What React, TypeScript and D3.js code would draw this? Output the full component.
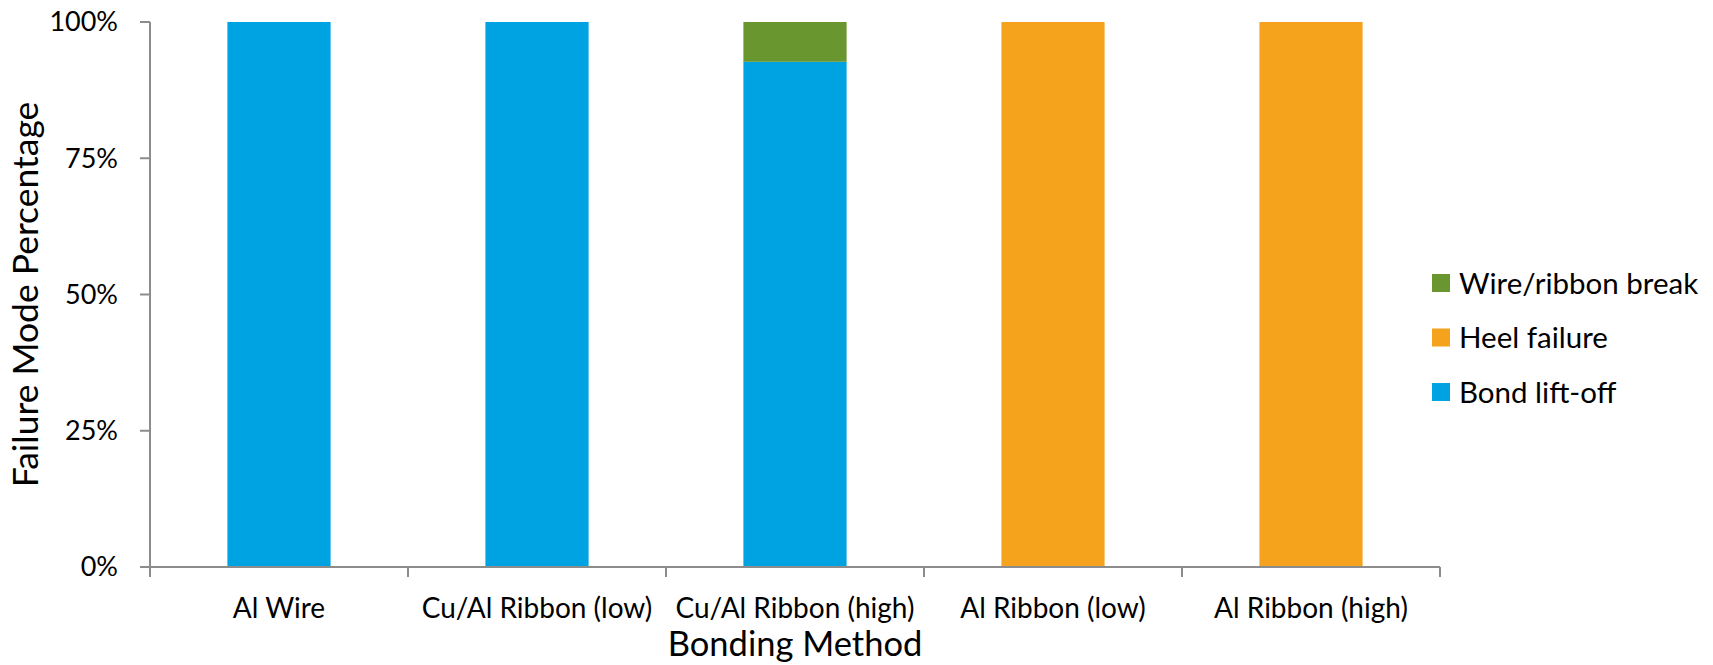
import React from "react";
import * as d3 from "d3";

const categories = [
  "Al Wire",
  "Cu/Al Ribbon (low)",
  "Cu/Al Ribbon (high)",
  "Al Ribbon (low)",
  "Al Ribbon (high)",
];
const bondLiftOff = [100, 100, 92.7, 0, 0];
const heelFailure = [0, 0, 0, 100, 100];
const wireRibbonBreak = [0, 0, 7.3, 0, 0];
const seriesNames = ["Bond lift-off", "Heel failure", "Wire/ribbon break"];
const seriesColors = ["#00A3E1", "#F5A21D", "#6A962F"];
const yTicks = [0, 25, 50, 75, 100];

const W = 1713;
const H = 665;
const M = { left: 150, right: 273, top: 22, bottom: 98 };
const FONT = "Lato, 'Open Sans', sans-serif";
const AXIS = "#8C8C8C";

export default function App() {
  const x = d3
    .scaleBand<string>()
    .domain(categories)
    .range([M.left, W - M.right])
    .paddingInner(0.6)
    .paddingOuter(0.3);
  const y = d3.scaleLinear().domain([0, 100]).range([H - M.bottom, M.top]);

  const rows = categories.map((c, i) => ({
    cat: c,
    [seriesNames[0]]: bondLiftOff[i],
    [seriesNames[1]]: heelFailure[i],
    [seriesNames[2]]: wireRibbonBreak[i],
  }));
  const stacked = d3.stack<any>().keys(seriesNames)(rows);

  const step = x.step();
  const boundaries = d3.range(categories.length + 1).map((i) => M.left + i * step);
  const y0 = y(0);

  return (
    <div style={{ position: "absolute", left: 0, top: 0 }}>
      <svg width={W} height={H} style={{ display: "block", background: "#fff" }}>
        {stacked.map((layer, si) => (
          <g key={layer.key} fill={seriesColors[si]}>
            {layer.map((d, i) =>
              d[1] - d[0] > 0 ? (
                <rect
                  key={i}
                  x={x(categories[i])}
                  width={x.bandwidth()}
                  y={y(d[1])}
                  height={y(d[0]) - y(d[1])}
                />
              ) : null
            )}
          </g>
        ))}

        {/* value axis */}
        <line x1={M.left} x2={M.left} y1={y(100)} y2={y0} stroke={AXIS} strokeWidth={2} />
        {yTicks.map((t) => (
          <g key={t}>
            <line x1={M.left - 10} x2={M.left} y1={y(t)} y2={y(t)} stroke={AXIS} strokeWidth={2} />
            <text
              x={118}
              y={y(t)}
              dy="0.35em"
              textAnchor="end"
              fontFamily={FONT}
              fontSize={27}
              fill="#000"
            >
              {t}%
            </text>
          </g>
        ))}

        {/* category axis */}
        <line x1={M.left - 10} x2={W - M.right} y1={y0} y2={y0} stroke={AXIS} strokeWidth={2} />
        {boundaries.map((bx, i) => (
          <line key={i} x1={bx} x2={bx} y1={y0} y2={y0 + 10} stroke={AXIS} strokeWidth={2} />
        ))}
        {categories.map((c) => (
          <text
            key={c}
            x={(x(c) as number) + x.bandwidth() / 2}
            y={618}
            textAnchor="middle"
            fontFamily={FONT}
            fontSize={28}
            fill="#000"
          >
            {c}
          </text>
        ))}

        {/* axis titles */}
        <text
          x={(M.left + W - M.right) / 2}
          y={656}
          textAnchor="middle"
          fontFamily={FONT}
          fontSize={34.5}
          fill="#000"
        >
          Bonding Method
        </text>
        <text
          transform={`translate(38, ${(y(100) + y0) / 2}) rotate(-90)`}
          textAnchor="middle"
          fontFamily={FONT}
          fontSize={35.5}
          fill="#000"
        >
          Failure Mode Percentage
        </text>

        {/* legend, top entry is the top of the stack */}
        {[2, 1, 0].map((si, k) => {
          const cy = 283 + k * 54.5;
          return (
            <g key={si}>
              <rect x={1432} y={cy - 9} width={18} height={18} fill={seriesColors[si]} />
              <text x={1459} y={cy} dy="0.36em" fontFamily={FONT} fontSize={29.5} fill="#000">
                {seriesNames[si]}
              </text>
            </g>
          );
        })}
      </svg>
    </div>
  );
}
